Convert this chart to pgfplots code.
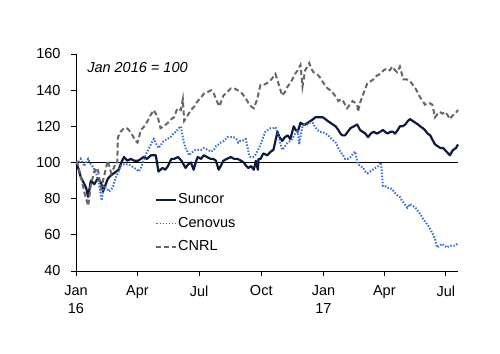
\documentclass[border=0pt]{standalone}
\usepackage{pgfplots}
\pgfplotsset{compat=1.18}
\usepackage{fontspec}
\setmainfont{Liberation Sans}
\definecolor{suncor}{HTML}{0E1A3C}
\definecolor{cenovus}{HTML}{3A72D6}
\definecolor{cnrl}{HTML}{666666}
\begin{document}
\begin{tikzpicture}[x=1pt,y=1pt]
\path (0,0) rectangle (500,353);
\begin{axis}[
  at={(76pt,82pt)}, anchor=south west,
  width=382pt, height=217pt, scale only axis,
  xmin=0, xmax=565, ymin=40, ymax=160,
  axis x line*=bottom, axis y line*=left,
  axis line style={line width=0.9pt, black},
  tick style={line width=0.9pt, black},
  tick align=outside, major tick length=5pt,
  xtick={0,91,182,274,366,456,547},
  xticklabels={Jan\\16,Apr,Jul,Oct,Jan\\17,Apr,Jul},
  xticklabel style={align=center, yshift=-6pt, font=\fontsize{14.5}{17.5}\selectfont},
  ytick={40,60,...,160},
  yticklabel style={xshift=-7pt, font=\fontsize{14.5}{17}\selectfont},
  /pgf/number format/assume math mode=true,
  legend cell align=left,
  legend style={draw=none, fill=none, at={(0.2,0.373)}, anchor=north west,
    font=\fontsize{14.5}{17}\selectfont,
    nodes={inner sep=1pt, text height=10.5pt, text depth=3pt}, row sep=8pt},
  legend image code/.code={\draw[#1, line width=1.6pt] (0pt,0pt) -- (20pt,0pt);},
  clip=false,
]
\addplot[black, line width=1.1pt, forget plot] coordinates {(0,100) (565,100)};
\addplot[suncor, line width=2.2pt, line join=round] coordinates {
(1,99.5) (4,96) (7,92) (11,89) (15,86) (18,81) (22,90) (27,88) (32,91) (37,89) (40,84)
(44,88) (47,91) (52,93) (56,94) (63,96) (67,100) (71,103) (76,101) (81,102) (86,101) (92,101)
(96,102) (100,103) (105,102) (111,104) (118,104) (122,95) (125,96) (128,97) (132,96) (136,98) (141,102)
(145,102) (151,103) (156,101) (162,97) (166,99) (170,100) (174,96) (177,100) (180,103) (185,102) (189,104)
(194,103) (199,102) (203,102) (207,101) (211,96) (214,98) (218,101) (223,102) (229,103) (234,102) (239,102)
(244,101) (248,100) (252,98) (255,97) (259,98) (263,96) (266,101) (269,96) (270,102) (273,102) (277,105)
(283,104) (288,106) (292,107) (295,112) (298,117) (301,114) (305,112) (309,114) (313,115) (317,113) (322,120)
(325,118) (328,117) (332,122) (336,121) (339,121) (343,122) (347,123) (351,124) (354,125) (358,125) (361,125)
(365,125) (369,124) (372,123) (376,122) (380,121) (384,120) (388,118) (391,116) (394,115) (398,115) (402,117)
(406,119) (411,120) (416,121) (420,118) (424,117) (428,116) (432,114) (436,116) (440,117) (445,116) (450,117)
(454,118) (457,117) (461,116) (465,117) (469,117) (472,116) (476,118) (479,120) (483,120) (487,121) (491,123)
(494,124) (498,123) (502,122) (506,121) (509,120) (513,119) (516,118) (520,116) (524,115) (528,112) (531,110)
(535,109) (539,108) (543,108) (548,106) (553,104) (556,106) (558,107) (562,108) (565,110)
};
\addlegendentry{Suncor}
\addplot[cenovus, line width=2pt, dash pattern=on 1.5pt off 1.6pt] coordinates {
(1,99) (4,100) (7,102) (10,100) (12,98) (15,100) (18,102) (22,99) (26,97) (30,94) (34,88) (38,79)
(41,87) (45,86) (49,84) (52,85) (55,87) (58,91) (62,94) (66,98) (71,99) (77,99) (82,98) (86,97)
(90,96) (93,95) (97,98) (100,101) (104,105) (108,108) (112,111) (115,113) (119,110) (122,108) (126,110) (130,112)
(135,113) (140,114) (144,116) (148,117) (152,119) (155,120) (159,112) (162,108) (165,106) (167,104) (170,105) (173,106)
(177,107) (180,107) (185,107) (189,108) (195,107) (200,106) (204,107) (207,109) (211,110) (214,111) (219,112) (224,114)
(229,114) (233,114) (237,113) (240,111) (243,112) (246,112) (251,113) (254,108) (256,104) (258,103) (262,103) (265,104)
(269,107) (273,110) (277,114) (280,117) (284,118) (288,119) (292,119) (295,119.5) (299,116) (302,111) (305,107) (309,109)
(313,111) (317,112) (320,113) (324,116) (328,118) (330,110) (333,116) (335,120) (339,121) (342,121) (346,122) (350,122)
(353,120) (357,118) (361,117) (364,117) (369,116) (373,115) (378,113) (384,111) (388,108) (391,106) (395,104) (398,102)
(402,102) (406,103) (410,105) (413,106) (417,99) (421,98) (425,97) (428,95) (431,94) (435,95) (439,96) (443,97)
(447,98) (451,100) (454,87) (457,87) (460,86) (464,86) (468,85) (472,83) (475,82) (479,81) (482,79) (486,77)
(490,75) (494,77) (498,76) (502,75) (506,73) (510,71) (513,69) (517,67) (521,65) (524,63) (527,61) (531,58)
(534,53) (538,54) (541,55) (545,54) (549,53) (552,54) (556,54) (560,54) (564,55)
};
\addlegendentry{Cenovus}
\addplot[cnrl, line width=2pt, dash pattern=on 5pt off 3pt] coordinates {
(1,101) (4,97) (7,92) (10,88) (12,84) (15,80) (18,76) (22,88) (25,92) (27,95) (32,97) (35,90) (37,86)
(40,90) (42,93) (45,98) (47,101) (50,97) (52,94) (56,97) (59,100) (61,100) (62,114) (66,117) (71,119)
(75,119) (78,118) (82,116) (85,114) (88,112) (91,111) (96,118) (101,120) (106,123) (110,126) (115,129) (118,127)
(121,125) (125,119) (130,120) (136,122) (141,124) (145,125) (150,130) (155,129) (158,135) (160,123) (165,126) (170,129)
(175,131) (180,134) (185,136) (189,138) (195,139) (200,140) (204,138) (207,135) (212,131) (215,134) (218,137) (224,139)
(229,141) (234,141) (239,140) (243,139) (246,138) (250,136) (255,133) (259,131) (263,130) (268,135) (271,140) (273,143)
(278,143) (283,144) (289,146) (295,149) (300,143) (305,137) (309,139) (313,142) (317,144) (320,146) (324,149) (328,151)
(332,154) (335,142) (339,151) (342,153) (345,155) (348,152) (351,150) (356,149) (361,147) (366,144) (372,141) (376,140)
(381,138) (385,136) (388,134) (392,135) (395,134) (398,132) (401,130) (405,132) (409,134) (413,133) (416,132) (417,128)
(421,134) (425,138) (428,141) (431,144) (436,145) (440,146) (445,148) (450,149) (455,151) (460,152) (464,151) (468,153)
(472,151) (475,150) (479,153) (484,146) (489,146) (494,145) (498,143) (502,141) (505,139) (509,136) (513,134) (516,132)
(522,133) (527,132) (531,125) (535,127) (538,128) (542,127) (546,128) (550,126) (553,124) (557,126) (561,127) (565,129)
};
\addlegendentry{CNRL}
\node[anchor=west, font=\fontsize{14.5}{17}\selectfont\itshape, inner sep=0pt] at (rel axis cs:0.029,0.94) {Jan 2016 = 100};
\end{axis}
\end{tikzpicture}
\end{document}
